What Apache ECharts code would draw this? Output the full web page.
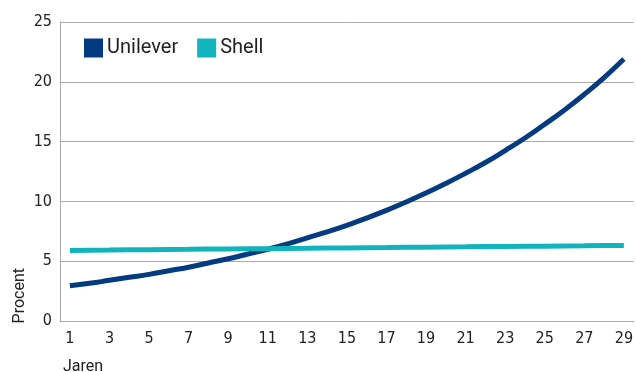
<!DOCTYPE html>
<html>
<head>
<meta charset="utf-8">
<script src="https://cdn.jsdelivr.net/npm/echarts@6/dist/echarts.min.js"></script>
<style>
  html, body { margin: 0; padding: 0; background: #fff; }
  #chart { width: 636px; height: 372px; }
</style>
</head>
<body>
<div id="chart"></div>
<script>
// jaren 1..29
const years = [];
for (let i = 1; i <= 29; i++) years.push(String(i));

// waarden (procent)
const unilever = [2.95, 3.15, 3.4, 3.65, 3.9, 4.2, 4.5, 4.85, 5.2, 5.6,
  6.0, 6.45, 6.95, 7.45, 8.0, 8.6, 9.25, 9.95, 10.7, 11.5,
  12.35, 13.25, 14.25, 15.3, 16.45, 17.65, 18.95, 20.35, 21.9];
const shell = [5.9, 5.92, 5.93, 5.95, 5.96, 5.98, 5.99, 6.01, 6.02, 6.04,
  6.05, 6.07, 6.08, 6.1, 6.11, 6.13, 6.14, 6.16, 6.17, 6.19,
  6.2, 6.22, 6.23, 6.25, 6.26, 6.28, 6.29, 6.31, 6.32];
const yTicks = [0, 5, 10, 15, 20, 25];

const tickFont = "'DejaVu Sans Condensed', sans-serif";
const textFont = "Roboto, sans-serif";

const chart = echarts.init(document.getElementById("chart"));
chart.setOption({
  animation: false,
  grid: { left: 60, right: 0, top: 22, bottom: 51 },
  legend: {
    data: ["Unilever", "Shell"],
    left: 84,
    top: 38,
    padding: 0,
    itemWidth: 19,
    itemHeight: 19,
    itemGap: 19,
    icon: "rect",
    textStyle: { fontFamily: textFont, fontSize: 20, lineHeight: 19, color: "#222", padding: [0, 0, 0, -1] },
  },
  xAxis: {
    type: "category",
    data: years,
    boundaryGap: true,
    axisTick: { show: false },
    axisLine: { lineStyle: { color: "#aaa", width: 1 } },
    axisLabel: {
      interval: 1,
      margin: 10,
      color: "#222",
      fontFamily: tickFont,
      fontSize: 16,
    },
  },
  yAxis: {
    type: "value",
    min: yTicks[0],
    max: yTicks[yTicks.length - 1],
    interval: 5,
    axisLine: { show: true, lineStyle: { color: "#aaa", width: 1 } },
    axisTick: { show: false },
    splitLine: { lineStyle: { color: "#aaa", width: 1 } },
    axisLabel: {
      margin: 8,
      color: "#222",
      fontFamily: tickFont,
      fontSize: 16,
    },
  },
  graphic: [
    {
      type: "text",
      left: 12,
      top: 268,
      rotation: Math.PI / 2,
      style: { text: "Procent", fontFamily: textFont, fontSize: 16, fill: "#222" },
    },
    {
      type: "text",
      left: 63,
      top: 359,
      style: { text: "Jaren", fontFamily: textFont, fontSize: 16, fill: "#222" },
    },
  ],
  series: [
    {
      name: "Unilever",
      type: "line",
      data: unilever,
      smooth: true,
      symbol: "none",
      lineStyle: { color: "#023b7f", width: 5 },
      itemStyle: { color: "#023b7f" },
    },
    {
      name: "Shell",
      type: "line",
      data: shell,
      symbol: "none",
      lineStyle: { color: "#11b4bc", width: 5 },
      itemStyle: { color: "#11b4bc" },
    },
  ],
});
</script>
</body>
</html>
